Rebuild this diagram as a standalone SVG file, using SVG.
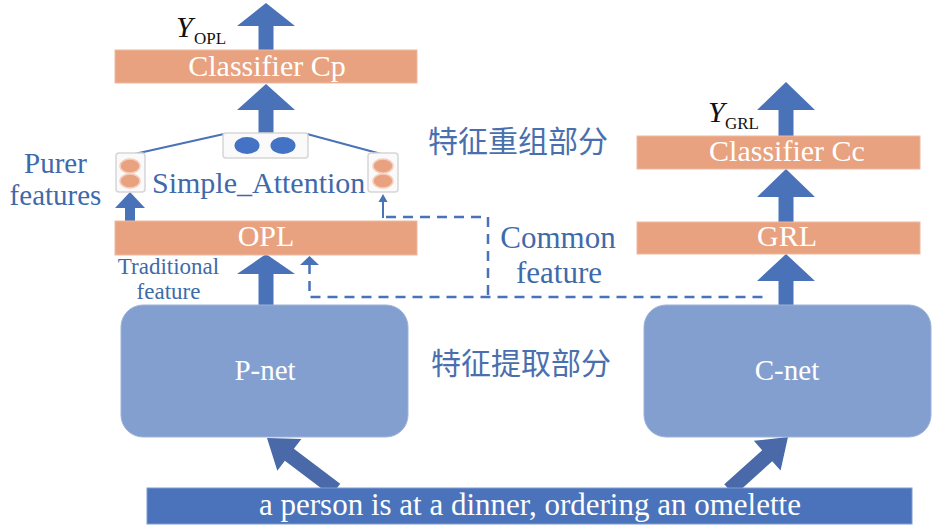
<svg xmlns="http://www.w3.org/2000/svg" width="945" height="529" viewBox="0 0 945 529">
<style>
.orange{fill:#E9A27F;stroke:#EDB9A0;stroke-width:1}
.net{fill:#829FCF;stroke:#9DB3D9;stroke-width:1}
.wt{fill:#FFFFFF;font-family:'Liberation Serif','DejaVu Serif',serif;text-anchor:middle}
.bt{fill:#3F6AAA;font-family:'Liberation Serif','DejaVu Serif',serif}
.cn{fill:#4A6FAE;font-family:'Noto Sans CJK SC',sans-serif;text-anchor:middle}
.blk{fill:#111111;font-family:'Liberation Serif','DejaVu Serif',serif}
.arr{fill:#4A72B8}
.darr{fill:#4A69A8}
.dash{fill:none;stroke:#4A72B8;stroke-width:2.5;stroke-dasharray:10 7}
.thin{fill:none;stroke:#4A72B8;stroke-width:2}
.sbox{fill:#FAFAFA;stroke:#D6D6D6;stroke-width:1.5}
.oe{fill:#E9A27F;stroke:#F5CDBA;stroke-width:1.5}
.be{fill:#4472C4}
</style>
<rect width="945" height="529" fill="#FFFFFF"/>

<g id="connectors">
  <path class="arr" d="M266,3 L295,26 L273.5,26 L273.5,50 L258.5,50 L258.5,26 L237,26 Z"/>
  <path class="arr" d="M266,84 L295,110 L273.5,110 L273.5,134 L258.5,134 L258.5,110 L237,110 Z"/>
  <path class="arr" d="M266,254 L295,274 L273.5,274 L273.5,306 L258.5,306 L258.5,274 L237,274 Z"/>
  <path class="arr" d="M130,192 L145,208 L135,208 L135,221 L125,221 L125,208 L115,208 Z"/>
  <path class="arr" d="M786,82 L815,110 L793.5,110 L793.5,136 L778.5,136 L778.5,110 L757,110 Z"/>
  <path class="arr" d="M786,169 L815,197 L793.5,197 L793.5,222 L778.5,222 L778.5,197 L757,197 Z"/>
  <path class="arr" d="M786,254 L815,281 L793.5,281 L793.5,306 L778.5,306 L778.5,281 L757,281 Z"/>
  <path class="darr" transform="translate(267,438) rotate(-53)" d="M0,0 L20,28 L7.5,28 L7.5,86 L-7.5,86 L-7.5,28 L-20,28 Z"/>
  <path class="darr" transform="translate(788,437) rotate(48)" d="M0,0 L20,28 L7.5,28 L7.5,79 L-7.5,79 L-7.5,28 L-20,28 Z"/>
  <path class="dash" d="M386,217 H488 V297"/>
  <path class="dash" d="M309.5,264 V297 H768"/>
  <polygon class="arr" points="309.5,256 319,265 300,265"/>
  <line class="thin" x1="383" y1="218" x2="383" y2="200"/>
  <polygon class="arr" points="383,194 387.5,202 378.5,202"/>
  <line class="thin" x1="130" y1="155" x2="224" y2="134"/>
  <line class="thin" x1="307" y1="134" x2="385" y2="155"/>
</g>

<g id="classifier-cp">
  <rect class="orange" x="115" y="50" width="302" height="33"/>
  <text class="wt" x="267" y="76" font-size="30">Classifier Cp</text>
</g>
<g id="y-opl">
  <text class="blk" x="176" y="37" font-size="30" font-style="italic">Y</text>
  <text class="blk" x="194" y="44" font-size="17">OPL</text>
</g>

<g id="attention">
  <rect class="sbox" x="223" y="133" width="85" height="25" rx="3"/>
  <ellipse class="be" cx="247" cy="145.5" rx="12.5" ry="8.5"/>
  <ellipse class="be" cx="283" cy="145.5" rx="12.5" ry="8.5"/>
  <rect class="sbox" x="116" y="153" width="29" height="39" rx="3"/>
  <ellipse class="oe" cx="130" cy="166" rx="10" ry="7"/>
  <ellipse class="oe" cx="130" cy="181" rx="10" ry="7"/>
  <rect class="sbox" x="368" y="153" width="30" height="39" rx="3"/>
  <ellipse class="oe" cx="383" cy="166" rx="10" ry="7"/>
  <ellipse class="oe" cx="383" cy="181" rx="10" ry="7"/>
  <text class="bt" x="152" y="193" font-size="30">Simple_Attention</text>
</g>

<g id="purer-features">
  <text class="bt" x="55.5" y="173" font-size="29" text-anchor="middle">Purer</text>
  <text class="bt" x="55.5" y="205" font-size="29" text-anchor="middle">features</text>
</g>

<g id="opl">
  <rect class="orange" x="115" y="221" width="302" height="34"/>
  <text class="wt" x="266" y="246" font-size="30">OPL</text>
</g>

<g id="traditional-feature">
  <text class="bt" x="168.5" y="274" font-size="23" text-anchor="middle">Traditional</text>
  <text class="bt" x="168.5" y="299" font-size="23" text-anchor="middle">feature</text>
</g>

<g id="recombination-label">
  <text class="cn" x="518" y="152" font-size="30">特征重组部分</text>
</g>

<g id="common-feature">
  <text class="bt" x="558" y="248" font-size="31" text-anchor="middle">Common</text>
  <text class="bt" x="559" y="283" font-size="31" text-anchor="middle">feature</text>
</g>

<g id="classifier-cc">
  <rect class="orange" x="637" y="136" width="283" height="33"/>
  <text class="wt" x="787" y="161" font-size="30">Classifier Cc</text>
</g>
<g id="y-grl">
  <text class="blk" x="708" y="122" font-size="30" font-style="italic">Y</text>
  <text class="blk" x="725" y="129" font-size="17">GRL</text>
</g>

<g id="grl">
  <rect class="orange" x="637" y="222" width="283" height="32"/>
  <text class="wt" x="787" y="246" font-size="30">GRL</text>
</g>

<g id="p-net">
  <rect class="net" x="121" y="305" width="287" height="132" rx="22"/>
  <text class="wt" x="265" y="380" font-size="29">P-net</text>
</g>

<g id="extraction-label">
  <text class="cn" x="521" y="374" font-size="30">特征提取部分</text>
</g>

<g id="c-net">
  <rect class="net" x="644" y="305" width="287" height="132" rx="22"/>
  <text class="wt" x="787" y="380" font-size="29">C-net</text>
</g>

<g id="input-sentence">
  <rect x="147" y="488" width="765" height="36" fill="#4A73BB" stroke="#7F9CD0" stroke-width="1"/>
  <text class="wt" x="530" y="515" font-size="31">a person is at a dinner, ordering an omelette</text>
</g>
</svg>
